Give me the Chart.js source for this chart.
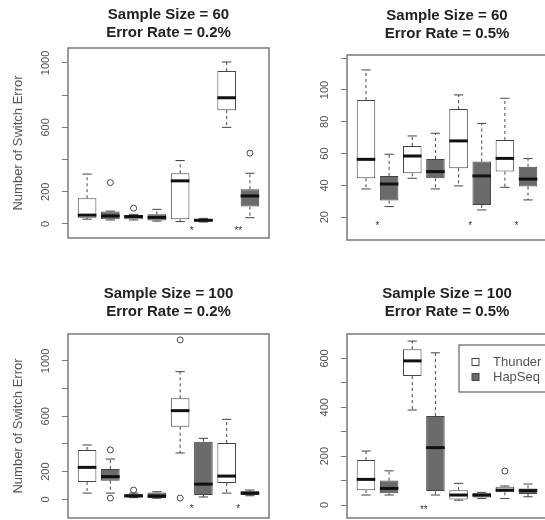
<!DOCTYPE html>
<html>
<head>
<meta charset="utf-8">
<script src="https://cdn.jsdelivr.net/npm/chart.js@4"></script>
<style>
  html, body { margin: 0; padding: 0; background: #fff; width: 545px; height: 520px; overflow: hidden; }
  .panel { position: absolute; }
</style>
</head>
<body>
<div class="panel" style="left:0;top:0"><canvas id="p1" width="272" height="260"></canvas></div>
<div class="panel" style="left:272px;top:0"><canvas id="p2" width="280" height="260"></canvas></div>
<div class="panel" style="left:0;top:260px"><canvas id="p3" width="272" height="260"></canvas></div>
<div class="panel" style="left:272px;top:260px"><canvas id="p4" width="280" height="260"></canvas></div>
<script>
// =========================================================================
// DATA (box stats, boxes 1..8, odd = Thunder, even = HapSeq)
// =========================================================================

const seriesNames = ['Thunder', 'HapSeq'];
const thunderPos = [1, 3, 5, 7];
const hapseqPos = [2, 4, 6, 8];

// Sample Size = 60, Error Rate = 0.2%
const p1Title = ['Sample Size = 60', 'Error Rate = 0.2%'];
const p1Low  = [30, 25, 25, 18, 15, 12, 600, 39];
const p1Q1   = [38, 30, 29, 21, 29, 15, 707, 108];
const p1Med  = [55, 50, 46, 41, 268, 23, 784, 174];
const p1Q3   = [160, 77, 56, 60, 315, 31, 950, 216];
const p1High = [310, 80, 60, 91, 394, 35, 1006, 315];
const p1Outliers = [{x: 2, y: 257}, {x: 3, y: 98}, {x: 8, y: 440}];
const p1Stars = [5.5, 7.5];
const p1StarLabels = ['*', '**'];
const p1StarY = -44;
const p1Ticks = [0, 200, 400, 600, 800, 1000];
const p1TickLabels = [0, 200, 600, 1000];

// Sample Size = 60, Error Rate = 0.5%
const p2Title = ['Sample Size = 60', 'Error Rate = 0.5%'];
const p2Low  = [37.8, 26.7, 44.5, 37.8, 39.7, 24.6, 38.8, 30.9];
const p2Q1   = [44.5, 30.5, 47.6, 44.5, 50.8, 27.7, 48.7, 39.3];
const p2Med  = [56.4, 40.9, 58.5, 48.7, 68, 46, 57, 44];
const p2Q3   = [93.7, 46, 64.8, 56.6, 88, 55, 68.6, 51.8];
const p2High = [112.6, 59.6, 71.1, 72.8, 96.9, 79, 94.8, 56.9];
const p2Outliers = [];
const p2Stars = [1.5, 5.5, 7.5];
const p2StarLabels = ['*', '*', '*'];
const p2StarY = 14.6;
const p2Ticks = [20, 40, 60, 80, 100, 120];
const p2TickLabels = [20, 40, 60, 80, 100];

// Sample Size = 100, Error Rate = 0.2%
const p3Title = ['Sample Size = 100', 'Error Rate = 0.2%'];
const p3Low  = [45, 45, 12, 8, 335, 17, 45, 26];
const p3Q1   = [125, 135, 16, 10, 525, 31, 118, 31];
const p3Med  = [231, 164, 24, 24, 641, 110, 168, 45];
const p3Q3   = [357, 219, 38, 50, 730, 416, 407, 58];
const p3High = [393, 291, 45, 55, 923, 441, 578, 67];
const p3Outliers = [{x: 2, y: 357}, {x: 2, y: 9}, {x: 3, y: 67}, {x: 5, y: 1152}, {x: 5, y: 9}];
const p3Stars = [5.5, 7.5];
const p3StarLabels = ['*', '*'];
const p3StarY = -75;
const p3Ticks = [0, 200, 400, 600, 800, 1000];
const p3TickLabels = [0, 200, 600, 1000];

// Sample Size = 100, Error Rate = 0.5%
const p4Title = ['Sample Size = 100', 'Error Rate = 0.5%'];
const p4Low  = [41, 41, 389, 41, 20, 27, 27, 34];
const p4Q1   = [61, 48, 528, 57, 23, 31, 52, 45];
const p4Med  = [105, 68, 590, 235, 41, 41, 61, 59];
const p4Q3   = [184, 100, 638, 364, 61, 48, 75, 68];
const p4High = [221, 140, 671, 623, 89, 52, 78, 86];
const p4Outliers = [{x: 7, y: 139}];
const p4Stars = [3.5];
const p4StarLabels = ['**'];
const p4StarY = -20;
const p4Ticks = [0, 100, 200, 300, 400, 500, 600];
const p4TickLabels = [0, 200, 400, 600];

// =========================================================================
// STYLE
// =========================================================================

Chart.defaults.font.family = '"Liberation Sans", Arial, sans-serif';
const colors = {
    thunder: '#ffffff',
    hapseq: '#6b6b6b',
    line: '#444444',
    median: '#111111',
    frame: '#7a7a7a',
    text: '#555555',
    title: '#222222'
};

const panelStats = {
    p1: {low: p1Low, med: p1Med, high: p1High, stars: p1Stars, starLabels: p1StarLabels, starY: p1StarY, labels: p1TickLabels},
    p2: {low: p2Low, med: p2Med, high: p2High, stars: p2Stars, starLabels: p2StarLabels, starY: p2StarY, labels: p2TickLabels},
    p3: {low: p3Low, med: p3Med, high: p3High, stars: p3Stars, starLabels: p3StarLabels, starY: p3StarY, labels: p3TickLabels},
    p4: {low: p4Low, med: p4Med, high: p4High, stars: p4Stars, starLabels: p4StarLabels, starY: p4StarY, labels: p4TickLabels, legend: true}
};

// Whiskers, medians, frame, rotated tick labels, stars and legend
const boxPlotParts = {
    id: 'boxPlotParts',
    afterDatasetsDraw(chart) {
        const s = panelStats[chart.canvas.id];
        const {ctx, chartArea: ca} = chart;
        const x = chart.scales.x, y = chart.scales.y;
        const seg = (x1, y1, x2, y2) => { ctx.beginPath(); ctx.moveTo(x1, y1); ctx.lineTo(x2, y2); ctx.stroke(); };

        ctx.save();
        chart.data.datasets.forEach((ds, d) => {
            if (ds.type === 'scatter') return;
            const meta = chart.getDatasetMeta(d);
            meta.data.forEach((bar, j) => {
                const i = ds.data[j].x - 1;
                const half = bar.width / 2;
                const top = Math.min(bar.y, bar.base), bottom = Math.max(bar.y, bar.base);
                const yHi = y.getPixelForValue(s.high[i]);
                const yLo = y.getPixelForValue(s.low[i]);
                const yMed = y.getPixelForValue(s.med[i]);

                ctx.strokeStyle = colors.line;
                ctx.lineWidth = 1;
                ctx.setLineDash([3, 3]);
                seg(bar.x, top, bar.x, yHi);
                seg(bar.x, bottom, bar.x, yLo);
                ctx.setLineDash([]);
                seg(bar.x - half / 2, yHi, bar.x + half / 2, yHi);
                seg(bar.x - half / 2, yLo, bar.x + half / 2, yLo);

                ctx.strokeStyle = colors.median;
                ctx.lineWidth = 3;
                seg(bar.x - half, yMed, bar.x + half, yMed);
            });
        });

        // plot frame
        ctx.strokeStyle = colors.frame;
        ctx.lineWidth = 1.5;
        ctx.strokeRect(ca.left, ca.top, ca.right - ca.left, ca.bottom - ca.top);

        // rotated y tick labels (R style)
        ctx.fillStyle = colors.text;
        ctx.font = '11px "Liberation Sans", Arial, sans-serif';
        ctx.textAlign = 'center';
        ctx.textBaseline = 'middle';
        y.ticks.forEach(t => {
            if (!s.labels.includes(t.value)) return;
            ctx.save();
            ctx.translate(ca.left - 22, y.getPixelForValue(t.value));
            ctx.rotate(-Math.PI / 2);
            ctx.fillText(String(t.value), 0, 0);
            ctx.restore();
        });

        // significance stars
        ctx.fillStyle = '#333';
        ctx.font = '10px "Liberation Sans", Arial, sans-serif';
        s.stars.forEach((pos, k) => {
            ctx.fillText(s.starLabels[k], x.getPixelForValue(pos), y.getPixelForValue(s.starY));
        });

        // legend inside plot (top right)
        if (s.legend) {
            const lx = ca.right - 88, ly = ca.top + 11;
            ctx.strokeStyle = colors.line;
            ctx.lineWidth = 1;
            ctx.strokeRect(lx, ly, 90, 47);
            ctx.font = '13px "Liberation Sans", Arial, sans-serif';
            ctx.textAlign = 'left';
            chart.data.datasets.slice(0, 2).forEach((ds, k) => {
                const ry = ly + 17 + k * 15;
                ctx.fillStyle = ds.backgroundColor;
                ctx.fillRect(lx + 13, ry - 3.5, 7, 7);
                ctx.strokeRect(lx + 13, ry - 3.5, 7, 7);
                ctx.fillStyle = colors.text;
                ctx.fillText(ds.label, lx + 34, ry);
            });
        }
        ctx.restore();
    }
};

// =========================================================================
// PANEL BUILDER
// =========================================================================

function makePanel(id, title, q1, q3, outliers, yMin, yMax, ticks, layout) {
    const boxData = pos => pos.map(p => ({x: p, y: [q1[p - 1], q3[p - 1]]}));
    const barStyle = {
        borderColor: colors.line,
        borderWidth: 1,
        borderSkipped: false,
        grouped: false,
        categoryPercentage: 1,
        barPercentage: 0.8
    };

    return new Chart(document.getElementById(id), {
        type: 'bar',
        data: {
            datasets: [
                {label: seriesNames[0], data: boxData(thunderPos), backgroundColor: colors.thunder, ...barStyle},
                {label: seriesNames[1], data: boxData(hapseqPos), backgroundColor: colors.hapseq, ...barStyle},
                {
                    type: 'scatter',
                    label: 'outliers',
                    data: outliers,
                    pointStyle: 'circle',
                    pointRadius: 3,
                    borderWidth: 1,
                    borderColor: colors.line,
                    backgroundColor: 'rgba(0,0,0,0)'
                }
            ]
        },
        options: {
            responsive: false,
            animation: false,
            layout: {autoPadding: false, padding: layout.padding},
            plugins: {
                legend: {display: false},
                tooltip: {enabled: false},
                title: {
                    display: true,
                    text: title,
                    fullSize: false,
                    color: colors.title,
                    font: {size: 15, weight: 'bold', lineHeight: '18px'},
                    padding: layout.titlePad
                }
            },
            scales: {
                x: {
                    type: 'linear',
                    display: false,
                    offset: false,
                    min: 0.18,
                    max: 8.82,
                    afterBuildTicks: s => { s.ticks = [...thunderPos, ...hapseqPos].sort((a, b) => a - b).map(v => ({value: v})); }
                },
                y: {
                    type: 'linear',
                    min: yMin,
                    max: yMax,
                    border: {display: false},
                    grid: {drawOnChartArea: false, drawTicks: true, tickLength: 6, color: '#777'},
                    ticks: {display: false},
                    title: {
                        display: layout.yTitle,
                        text: 'Number of Switch Error',
                        color: colors.text,
                        font: {size: 13},
                        padding: {top: 11, bottom: 0}
                    },
                    afterBuildTicks: s => { s.ticks = ticks.map(v => ({value: v})); },
                    afterFit: s => { s.width = layout.axisWidth; }
                }
            }
        },
        plugins: [boxPlotParts]
    });
}

makePanel('p1', p1Title, p1Q1, p1Q3, p1Outliers, -87, 1093, p1Ticks,
    {padding: {left: 0, top: 0, right: 3, bottom: 22}, titlePad: {top: 6, bottom: 6}, axisWidth: 68, yTitle: true});
makePanel('p2', p2Title, p2Q1, p2Q3, p2Outliers, 5.7, 122, p2Ticks,
    {padding: {left: 0, top: 0, right: 5, bottom: 20}, titlePad: {top: 7, bottom: 12}, axisWidth: 75, yTitle: false});
makePanel('p3', p3Title, p3Q1, p3Q3, p3Outliers, -135, 1195, p3Ticks,
    {padding: {left: 0, top: 0, right: 3, bottom: 2}, titlePad: {top: 25, bottom: 13}, axisWidth: 68, yTitle: true});
makePanel('p4', p4Title, p4Q1, p4Q3, p4Outliers, -53, 700, p4Ticks,
    {padding: {left: 0, top: 0, right: 5, bottom: 2}, titlePad: {top: 25, bottom: 13}, axisWidth: 75, yTitle: false});
</script>
</body>
</html>
